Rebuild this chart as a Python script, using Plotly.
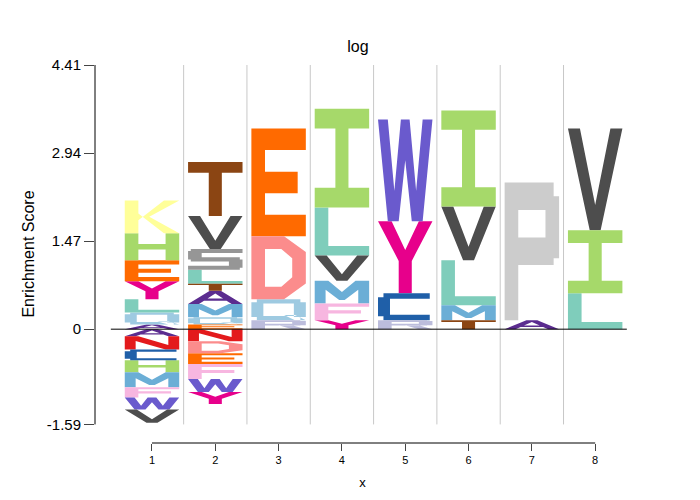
import plotly.graph_objects as go

positions = [1, 2, 3, 4, 5, 6, 7, 8]
# letters stacked bottom -> top (positive), 0 -> down (negative)
pos_letters = [
    ["A", "Q", "L", "Y", "E", "H", "K"],
    ["E", "Q", "M", "A", "T", "L", "S", "V", "T"],
    ["R", "Q", "D", "E"],
    ["Y", "F", "M", "V", "L", "I"],
    ["R", "C", "Y", "W"],
    ["T", "M", "L", "V", "I"],
    ["A", "P"],
    ["L", "I", "V"],
]
pos_heights = [
    [0.08, 0.2, 0.22, 0.3, 0.35, 0.45, 0.55],
    [0.08, 0.12, 0.22, 0.22, 0.12, 0.23, 0.35, 0.55, 0.9],
    [0.15, 0.35, 1.05, 1.8],
    [0.15, 0.28, 0.38, 0.42, 0.8, 1.65],
    [0.15, 0.45, 1.2, 1.7],
    [0.15, 0.25, 0.75, 0.9, 1.6],
    [0.15, 2.3],
    [0.6, 1.05, 1.7],
]
neg_letters = [
    ["A", "N", "C", "H", "M", "F", "W", "V"],
    ["N", "D", "E", "F", "W", "Y"],
    [], [], [], [], [], [],
]
neg_heights = [
    [0.12, 0.22, 0.18, 0.2, 0.25, 0.17, 0.2, 0.22],
    [0.2, 0.2, 0.18, 0.25, 0.22, 0.2],
    [], [], [], [], [], [],
]
y_ticks = [-1.59, 0, 1.47, 2.94, 4.41]
y_tick_text = ["-1.59", "0", "1.47", "2.94", "4.41"]

colors = {
    "A": "#5B2C8F", "C": "#1F5FA8", "D": "#FB8C8C", "E": "#FF6A00", "F": "#F7B6E0",
    "G": "#2CA02C", "H": "#A6D96A", "I": "#A6D96A", "K": "#FFFF99", "L": "#7FCDBB",
    "M": "#6BAED6", "N": "#E31A1C", "P": "#CCCCCC", "Q": "#9ECAE1", "R": "#BCBDDC",
    "S": "#969696", "T": "#8B4513", "V": "#4D4D4D", "W": "#6A5ACD", "Y": "#E7008B",
}

def R(x0, y0, x1, y1):
    return [(x0, y0), (x1, y0), (x1, y1), (x0, y1)]

ring = [R(0, .15, .22, .85), R(.78, .15, 1, .85), R(.1, .8, .9, 1), R(.1, 0, .9, .2)]
pbase = [R(0, 0, .25, 1), R(.25, .8, .9, 1), R(.75, .45, 1, .9), R(.25, .4, .9, .6)]
glyphs = {
    "A": [[(0, 0), (.2, 0), (.5, .8), (.8, 0), (1, 0), (.6, 1), (.4, 1)], R(.25, .25, .75, .42)],
    "C": [R(0, .15, .22, .85), R(.1, .8, .95, 1), R(.1, 0, .95, .2)],
    "D": [R(0, 0, .25, 1), [(.25, 1), (.6, 1), (1, .75), (1, .25), (.6, 0), (.25, 0), (.25, .2),
                            (.55, .2), (.75, .35), (.75, .65), (.55, .8), (.25, .8)]],
    "E": [R(0, 0, .25, 1), R(0, .8, 1, 1), R(0, .4, .85, .6), R(0, 0, 1, .2)],
    "F": [R(0, 0, .25, 1), R(0, .8, 1, 1), R(0, .4, .85, .6)],
    "H": [R(0, 0, .25, 1), R(.75, 0, 1, 1), R(0, .4, 1, .6)],
    "I": [R(0, .8, 1, 1), R(0, 0, 1, .2), R(.38, 0, .62, 1)],
    "K": [R(0, 0, .25, 1), [(.25, .4), (.72, 1), (1, 1), (.45, .5), (1, 0), (.72, 0), (.25, .6)]],
    "L": [R(0, 0, .25, 1), R(0, 0, 1, .2)],
    "M": [[(0, 0), (0, 1), (.25, 1), (.5, .5), (.75, 1), (1, 1), (1, 0), (.8, 0), (.8, .6),
           (.55, .15), (.45, .15), (.2, .6), (.2, 0)]],
    "N": [[(0, 0), (0, 1), (.25, 1), (.8, .35), (.8, 1), (1, 1), (1, 0), (.75, 0), (.2, .65), (.2, 0)]],
    "P": pbase,
    "Q": ring + [[(.6, .25), (.8, .25), (1, 0), (.8, 0)]],
    "R": pbase + [[(.5, .45), (.75, .45), (1, 0), (.75, 0)]],
    "S": [R(.05, .8, 1, 1), R(0, .5, .25, .9), R(.05, .4, .95, .6), R(.75, .1, 1, .5), R(0, 0, .95, .2)],
    "T": [R(0, .8, 1, 1), R(.38, 0, .62, .8)],
    "V": [[(0, 1), (.22, 1), (.5, .25), (.78, 1), (1, 1), (.6, 0), (.4, 0)]],
    "W": [[(0, 1), (.18, 1), (.3, .3), (.42, 1), (.58, 1), (.7, .3), (.82, 1), (1, 1), (.82, 0),
           (.62, 0), (.5, .6), (.38, 0), (.18, 0)]],
    "Y": [[(0, 1), (.25, 1), (.5, .6), (.75, 1), (1, 1), (.62, .45), (.62, 0), (.38, 0), (.38, .45)]],
}

paths = {}
def add_letter(letter, xc, y0, h):
    xs, ys = paths.setdefault(letter, ([], []))
    for poly in glyphs[letter]:
        for (u, v) in poly + [poly[0]]:
            xs.append(xc - 0.43 + 0.86 * u)
            ys.append(y0 + h * v)
        xs.append(None); ys.append(None)

for i, p in enumerate(positions):
    y = 0.0
    for L, h in zip(pos_letters[i], pos_heights[i]):
        add_letter(L, p, y, h); y += h
    y = 0.0
    for L, h in zip(neg_letters[i], neg_heights[i]):
        add_letter(L, p, y - h, h); y -= h

fig = go.Figure()
for p in positions[:-1]:
    fig.add_trace(go.Scatter(x=[p + .5, p + .5], y=[-1.59, 4.41], mode="lines",
                             line=dict(color="#C8C8C8", width=1), hoverinfo="skip", showlegend=False))
for L, (xs, ys) in paths.items():
    fig.add_trace(go.Scatter(x=xs, y=ys, fill="toself", mode="lines", fillcolor=colors[L],
                             line=dict(width=0, color=colors[L]), showlegend=False, name=L))
fig.add_trace(go.Scatter(x=[0.35, 8.5], y=[0, 0], mode="lines", line=dict(color="black", width=1),
                         showlegend=False, hoverinfo="skip"))
fig.add_shape(type="line", xref="paper", x0=0, x1=0, y0=-1.59, y1=4.41, line=dict(color="black", width=1))
fig.add_shape(type="line", x0=1, x1=8, yref="paper", y0=0, y1=0, line=dict(color="black", width=1))

fig.update_layout(
    width=700, height=500, plot_bgcolor="white", paper_bgcolor="white",
    margin=dict(l=87, r=78, t=57, b=65),
    font=dict(family="Liberation Sans, Arial", color="black"),
    title=dict(text="log", x=0.5, y=0.935, xanchor="center", font=dict(size=16)),
    xaxis=dict(range=[0.1, 8.55], tickvals=positions, ticks="outside", ticklen=7, showgrid=False,
               zeroline=False, showline=False, tickfont=dict(size=11),
               title=dict(text="x", font=dict(size=13), standoff=12)),
    yaxis=dict(range=[-1.9, 4.41], tickvals=y_ticks, ticktext=y_tick_text, ticks="outside", ticklen=10,
               showgrid=False, zeroline=False, showline=False, tickfont=dict(size=15),
               title=dict(text="Enrichment Score", font=dict(size=16), standoff=8)),
)
fig.write_html("out.html")
